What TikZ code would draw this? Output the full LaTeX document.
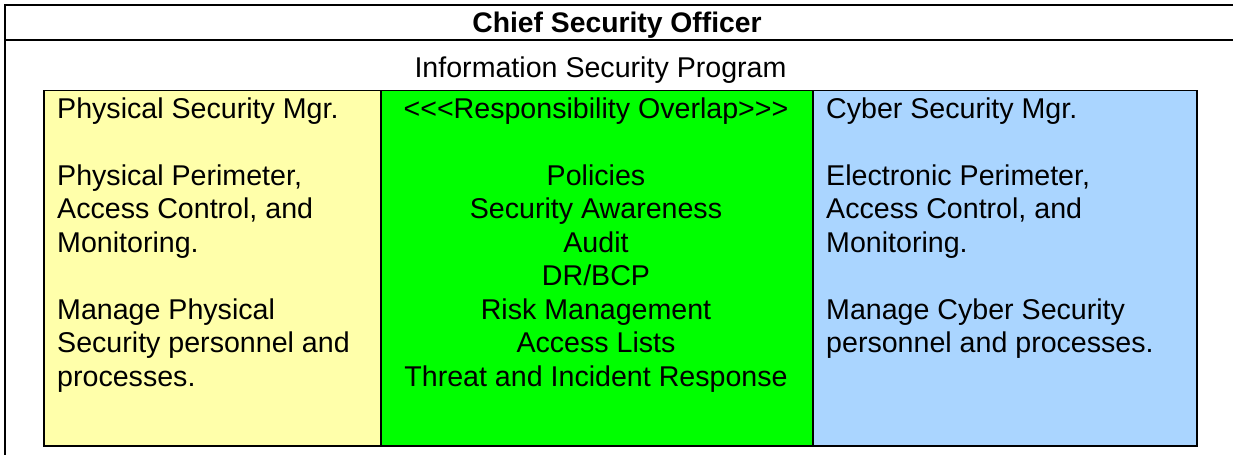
\documentclass[tikz,border=0pt]{standalone}
\usepackage{fontspec}
\setmainfont{Liberation Sans}
\definecolor{physfill}{HTML}{FFFFAA}
\definecolor{overlapfill}{HTML}{00FF00}
\definecolor{cyberfill}{HTML}{AAD5FF}
\begin{document}
\begin{tikzpicture}[x=1bp,y=-1bp,
  rule/.style={line width=1.5bp, black},
  column/.style={draw, rule, rectangle, inner sep=0pt, anchor=north west,
                 minimum height=355bp},
  body/.style={inner sep=0pt, font=\fontsize{28.6bp}{33.5bp}\selectfont},
  heading/.style={inner sep=0pt, font=\fontsize{28.3bp}{33bp}\selectfont\bfseries}]
\useasboundingbox (0,0) rectangle (1233,455);

% outer frame of the officer's block
\draw[rule] (1233,5) -- (5,5) -- (5,455);
\draw[rule] (5,40) -- (1233,40);

\node[heading, anchor=base] (cso) at (617,33) {Chief Security Officer};
\node[body, anchor=base] (isp) at (600.5,77.3) {Information Security Program};

% the three responsibility columns
\node[column, fill=physfill, minimum width=337bp] (phys) at (43,90) {};
\node[column, fill=overlapfill, minimum width=432bp] (overlap) at (380,90) {};
\node[column, fill=cyberfill, minimum width=384bp] (cyber) at (812,90) {};

% multi-line blocks are placed by the baseline of their last line
\node[body, align=left, anchor=base west] (phystext) at (57,386.3)
  {Physical Security Mgr.\\[33.5bp]
   Physical Perimeter,\\
   Access Control, and\\
   Monitoring.\\[33.5bp]
   Manage Physical\\
   Security personnel and\\
   processes.};

\node[body, align=center, anchor=base] (overlaptext) at (596,386.3)
  {<{}<{}<Responsibility Overlap>{}>{}>\\[33.5bp]
   Policies\\
   Security Awareness\\
   Audit\\
   DR/BCP\\
   Risk Management\\
   Access Lists\\
   Threat and Incident Response};

\node[body, align=left, anchor=base west] (cybertext) at (826,352.8)
  {Cyber Security Mgr.\\[33.5bp]
   Electronic Perimeter,\\
   Access Control, and\\
   Monitoring.\\[33.5bp]
   Manage Cyber Security\\
   personnel and processes.};
\end{tikzpicture}
\end{document}
